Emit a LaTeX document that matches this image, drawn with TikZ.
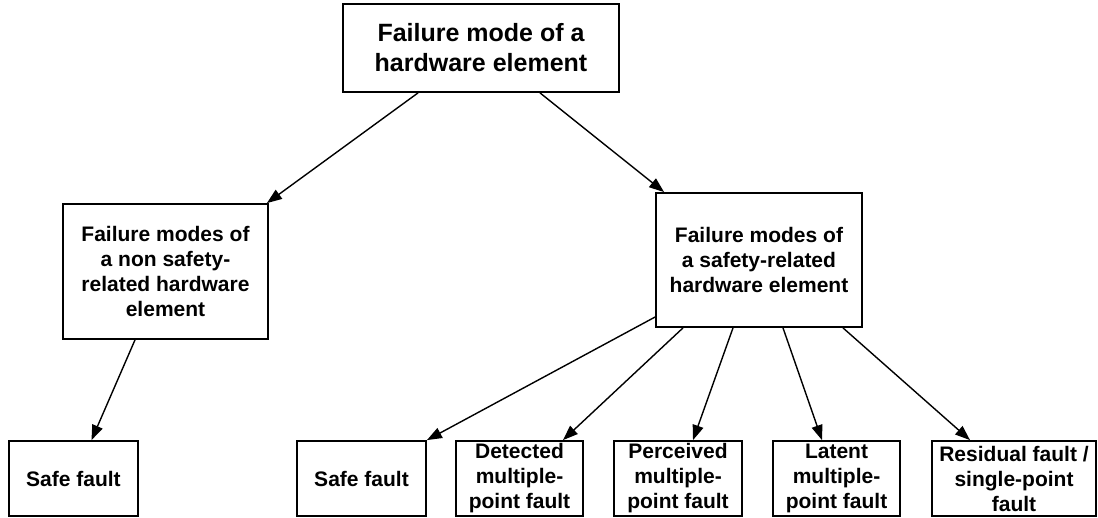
\documentclass[tikz,border=0pt]{standalone}
\usepackage{fontspec}
\setmainfont{Liberation Sans}
\usetikzlibrary{arrows.meta}
\begin{document}
\begin{tikzpicture}[x=1pt,y=-1pt,
  box/.style={draw=black, line width=1.8pt, fill=white, rectangle, inner sep=0pt,
    align=center, font=\bfseries\fontsize{21}{25}\selectfont},
  topbox/.style={box, font=\bfseries\fontsize{25}{30}\selectfont},
  link/.style={line width=1.4pt, -{Triangle[length=15pt,width=11pt]}}]
\useasboundingbox (0,0) rectangle (1098,517);

% root
\node[topbox, minimum width=276pt, minimum height=88pt] (root) at (481,48)
  {Failure mode of a\\hardware element};

% second level
\node[box, minimum width=205pt, minimum height=135pt] (nonsafe) at (165.5,271.5)
  {Failure modes of\\a non safety-\\related hardware\\element};
\node[box, minimum width=206pt, minimum height=134pt] (safe) at (759,260)
  {Failure modes of\\a safety-related\\hardware element};

% leaves
\node[box, minimum width=129pt, minimum height=75pt] (nsafefault) at (73.5,478.5) {Safe fault};
\node[box, minimum width=129pt, minimum height=75pt] (safefault) at (361.5,478.5) {Safe fault};
\node[box, minimum width=127pt, minimum height=75pt] (detected) at (519.5,478.5)
  {Detected\\multiple-\\point fault};
\node[box, minimum width=128pt, minimum height=75pt] (perceived) at (678,478.5)
  {Perceived\\multiple-\\point fault};
\node[box, minimum width=127pt, minimum height=75pt] (latent) at (836.5,478.5)
  {Latent\\multiple-\\point fault};
\node[box, minimum width=164pt, minimum height=75pt] (residual) at (1014,478.5)
  {Residual fault /\\single-point\\fault};

% connectors
\draw[link] ([xshift=-63pt]root.south) -- ([xshift=-2pt]nonsafe.north east);
\draw[link] ([xshift=59pt]root.south) -- ([xshift=9pt]safe.north west);
\draw[link] ([xshift=-30.5pt]nonsafe.south) -- ([xshift=18pt]nsafefault.north);
\draw[link] ([yshift=-57pt]safe.west) -- (safefault.north east);
\draw[link] ([xshift=-76pt]safe.south) -- ([xshift=43.5pt]detected.north);
\draw[link] ([xshift=-26pt]safe.south) -- ([xshift=15pt]perceived.north);
\draw[link] ([xshift=24pt]safe.south) -- ([xshift=-14.5pt]latent.north);
\draw[link] ([xshift=84pt]safe.south) -- ([xshift=-44pt]residual.north);
\end{tikzpicture}
\end{document}
